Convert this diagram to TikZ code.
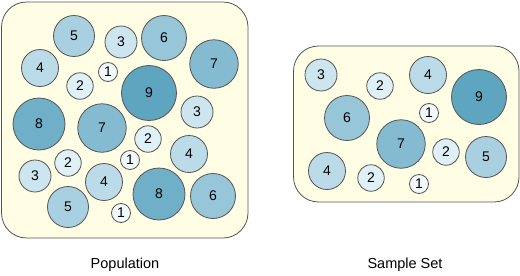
\documentclass[tikz,border=0pt]{standalone}
\usepackage{fontspec}
\setmainfont{Liberation Sans}
\definecolor{boxfill}{HTML}{FFFDE4}
\definecolor{edge}{HTML}{555555}
\definecolor{v1}{HTML}{F2F9FC}
\definecolor{v2}{HTML}{E0F0F7}
\definecolor{v3}{HTML}{CDE5EF}
\definecolor{v4}{HTML}{BBDBE8}
\definecolor{v5}{HTML}{A9D0E0}
\definecolor{v6}{HTML}{97C6D9}
\definecolor{v7}{HTML}{84BBD0}
\definecolor{v8}{HTML}{6FAFC8}
\definecolor{v9}{HTML}{5EA5C0}
\begin{document}
\begin{tikzpicture}[x=1pt,y=-1pt,
    ball/.style={circle,draw=edge,line width=0.8pt,inner sep=0pt,font=\fontsize{14}{14}\selectfont},
    b1/.style={ball,fill=v1,minimum size=19pt},
    b2/.style={ball,fill=v2,minimum size=26.5pt},
    b3/.style={ball,fill=v3,minimum size=32pt},
    b4/.style={ball,fill=v4,minimum size=37pt},
    b5/.style={ball,fill=v5,minimum size=41pt},
    b6/.style={ball,fill=v6,minimum size=45pt},
    b7/.style={ball,fill=v7,minimum size=48.5pt},
    b8/.style={ball,fill=v8,minimum size=52pt},
    b9/.style={ball,fill=v9,minimum size=55pt},
    setbox/.style={fill=boxfill,draw=edge,line width=0.8pt,rounded corners=25pt},
    caption/.style={font=\fontsize{14.5}{14.5}\selectfont}]
    \useasboundingbox (0,0) rectangle (520,276);
    % population
    \draw[setbox] (1.5,2) rectangle (248,238);
    \node[b5] (p1) at (74,36) {5};
    \node[b3] (p2) at (121,42) {3};
    \node[b6] (p3) at (164,38) {6};
    \node[b7] (p4) at (214,64) {7};
    \node[b4] (p5) at (40,68) {4};
    \node[b1] (p6) at (108,72) {1};
    \node[b2] (p7) at (80,86) {2};
    \node[b9] (p8) at (149,93) {9};
    \node[b3] (p9) at (197,112) {3};
    \node[b8] (p10) at (39,124) {8};
    \node[b7] (p11) at (102,128) {7};
    \node[b2] (p12) at (148,139) {2};
    \node[b4] (p13) at (189,154) {4};
    \node[b1] (p14) at (130,160) {1};
    \node[b2] (p15) at (68,163) {2};
    \node[b3] (p16) at (35,176) {3};
    \node[b4] (p17) at (104,182) {4};
    \node[b8] (p18) at (159,194) {8};
    \node[b6] (p19) at (213,196) {6};
    \node[b5] (p20) at (68,207) {5};
    \node[b1] (p21) at (121,213) {1};
    % sample set
    \draw[setbox] (293.5,46) rectangle (519,202);
    \node[b3] (s1) at (321,75) {3};
    \node[b2] (s2) at (380,86) {2};
    \node[b4] (s3) at (428,75) {4};
    \node[b9] (s4) at (479,97) {9};
    \node[b6] (s5) at (347,118) {6};
    \node[b1] (s6) at (429,113) {1};
    \node[b7] (s7) at (401,144) {7};
    \node[b2] (s8) at (446,152) {2};
    \node[b5] (s9) at (486,157) {5};
    \node[b4] (s10) at (327,171) {4};
    \node[b2] (s11) at (371,178) {2};
    \node[b1] (s12) at (419,184) {1};
    % captions
    \node[caption] (pop) at (125,265) {Population};
    \node[caption] (smp) at (405,265) {Sample Set};
\end{tikzpicture}
\end{document}
